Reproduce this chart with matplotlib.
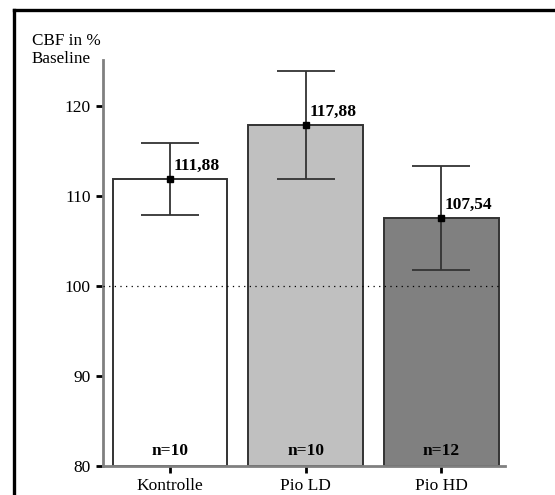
import matplotlib
matplotlib.use("Agg")
import matplotlib.pyplot as plt
from matplotlib.lines import Line2D

categories = ["Kontrolle", "Pio LD", "Pio HD"]
means = [111.88, 117.88, 107.54]
errors = [4.0, 5.95, 5.8]
value_labels = ["111,88", "117,88", "107,54"]
n_labels = ["n=10", "n=10", "n=12"]
yticks = [80, 90, 100, 110, 120]
bar_colors = ["#ffffff", "#c0c0c0", "#808080"]

plt.rcParams['font.family'] = ['Liberation Serif', 'DejaVu Serif']

W, H = 555, 495
fig = plt.figure(figsize=(W / 100, H / 100), dpi=100)
ax = fig.add_axes([103 / W, 1 - 466 / H, (505 - 103) / W, (466 - 60) / H])

x = list(range(len(categories)))
ax.bar(x, [m - 80 for m in means], bottom=80, width=0.845, color=bar_colors,
       edgecolor="#333333", linewidth=1.4, zorder=2)
ax.errorbar(x, means, yerr=errors, fmt='s', color='black', markersize=4,
            ecolor='#333333', elinewidth=1.3, capsize=21, capthick=1.3, zorder=4)
ax.axhline(100, color='black', linestyle=(0, (1, 3.5)), linewidth=0.9, zorder=3,
           xmin=0, xmax=0.985)

for xi, m, lab in zip(x, means, value_labels):
    ax.annotate(lab, (xi, m), xytext=(2.5, 3.5), textcoords='offset points',
                ha='left', va='bottom', fontsize=12.5, fontweight='bold')
for xi, lab in zip(x, n_labels):
    ax.text(xi, 80.8, lab, ha='center', va='bottom', fontsize=12.5, fontweight='bold')

ax.set_xlim(-0.495, 2.47)
ax.set_ylim(80, 125.1)
ax.set_yticks(yticks)
ax.set_yticklabels([str(t) for t in yticks], fontsize=12.5)
ax.set_xticks(x)
ax.set_xticklabels(categories, fontsize=12.5)
ax.tick_params(axis='y', length=5, width=2, color='black', pad=4)
ax.tick_params(axis='x', length=5, width=2, color='black', pad=4)
for s in ['top', 'right']:
    ax.spines[s].set_visible(False)
for s in ['left', 'bottom']:
    ax.spines[s].set_color('#808080')
    ax.spines[s].set_linewidth(2)

fig.text(32 / W, 1 - 33 / H, "CBF in %\nBaseline", ha='left', va='top',
         fontsize=12.3, linespacing=1.15)

# outer frame (partially cropped)
fig.add_artist(Line2D([13.5 / W, 13.5 / W], [0, 1 - 9.5 / H], transform=fig.transFigure,
                      color='black', linewidth=2.4))
fig.add_artist(Line2D([13.5 / W, 1], [1 - 9.5 / H, 1 - 9.5 / H], transform=fig.transFigure,
                      color='black', linewidth=2.4))

fig.savefig("out.png", dpi=100)
